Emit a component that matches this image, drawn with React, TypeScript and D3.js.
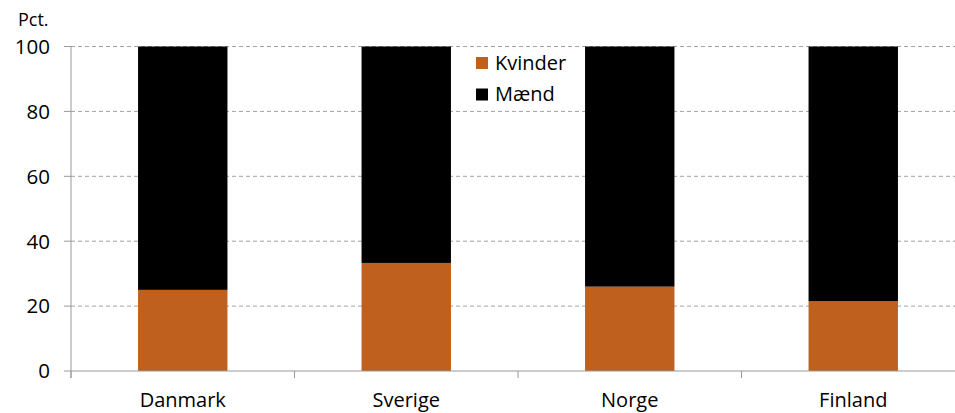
import React from 'react';
import * as d3 from 'd3';

const countries = ['Danmark', 'Sverige', 'Norge', 'Finland'];
const kvinder = [25, 33.3, 26, 21.5];
const maend = [75, 66.7, 74, 78.5];
const yTicks = [0, 20, 40, 60, 80, 100];
const seriesNames = ['Kvinder', 'Mænd'];
const seriesColors = ['#c0601e', '#000000'];

export default function App() {
  const width = 955;
  const height = 413;
  const margin = { top: 46.5, right: -10, bottom: 42, left: 71 };
  const font = '"Open Sans", sans-serif';

  const x = d3.scaleBand<string>()
    .domain(countries)
    .range([margin.left, width - margin.right])
    .paddingInner(0.6)
    .paddingOuter(0.3);
  const y = d3.scaleLinear().domain([0, 100]).range([height - margin.bottom, margin.top]);

  const stacked = countries.map((c, i) => ({ c, k: kvinder[i], m: maend[i] }));
  const stack = d3.stack<{ c: string; k: number; m: number }>().keys(['k', 'm'])(stacked);

  const step = x.step();
  const boundaries = d3.range(countries.length + 1).map(i => margin.left + i * step);

  return (
    <svg width={width} height={height} style={{ position: 'absolute', left: 0, top: 0 }}>
      <rect width={width} height={height} fill="#fff" />
      {yTicks.filter(t => t > 0).map(t => (
        <line key={t} x1={margin.left} x2={width} y1={y(t)} y2={y(t)}
          stroke="#a0a0a0" strokeDasharray="4,3" strokeWidth={1} />
      ))}
      {stack.map((s, si) => (
        <g key={si} fill={seriesColors[si]}>
          {s.map((d, i) => (
            <rect key={i} x={x(countries[i])} width={x.bandwidth()}
              y={y(d[1])} height={y(d[0]) - y(d[1])} />
          ))}
        </g>
      ))}
      <line x1={margin.left} x2={margin.left} y1={y(100)} y2={y(0) + 7} stroke="#999" />
      <line x1={margin.left} x2={width} y1={y(0)} y2={y(0)} stroke="#999" />
      {yTicks.map(t => (
        <g key={t}>
          <line x1={margin.left - 7} x2={margin.left} y1={y(t)} y2={y(t)} stroke="#999" />
          <text x={margin.left - 21} y={y(t)} dy="0.36em" textAnchor="end"
            fontFamily={font} fontSize={20.5} fill="#000">{t}</text>
        </g>
      ))}
      {boundaries.map((b, i) => (
        <line key={i} x1={b} x2={b} y1={y(0)} y2={y(0) + 7} stroke="#999" />
      ))}
      {countries.map(c => (
        <text key={c} x={x(c)! + x.bandwidth() / 2} y={407} textAnchor="middle"
          fontFamily={font} fontSize={20} fill="#000">{c}</text>
      ))}
      <text x={18} y={26} fontFamily={font} fontSize={18} fill="#000">Pct.</text>
      {seriesNames.map((n, i) => (
        <g key={n} transform={`translate(476,${57 + i * 31.5})`}>
          <rect width={12} height={12} fill={seriesColors[i]} />
          <text x={19} y={12.5} fontFamily={font} fontSize={20} fill="#000">{n}</text>
        </g>
      ))}
    </svg>
  );
}
